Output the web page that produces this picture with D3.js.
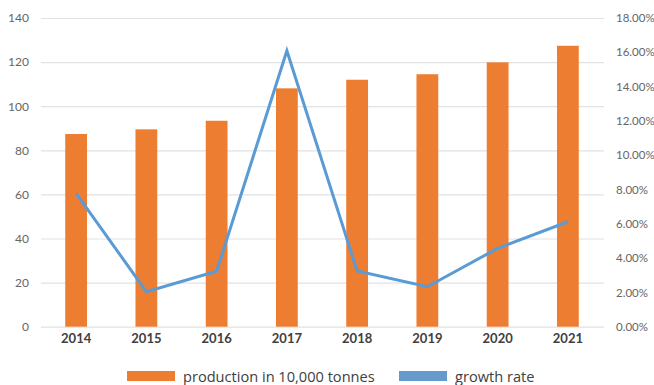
<!DOCTYPE html>
<html>
<head>
<meta charset="utf-8">
<script src="https://cdn.jsdelivr.net/npm/d3@7"></script>
<style>
  html, body { margin: 0; padding: 0; background: #fff; }
  svg { display: block; font-family: Lato, "Open Sans", sans-serif; }
</style>
</head>
<body>
<svg id="chart" width="654" height="385"></svg>
<script>
// Annual production (10,000 tonnes) and year-on-year growth rate (%)
const years = ["2014", "2015", "2016", "2017", "2018", "2019", "2020", "2021"];
const production = [87.4, 89.5, 93.4, 108.1, 112.0, 114.5, 119.9, 127.4];
const growthRate = [7.78, 2.04, 3.23, 16.09, 3.25, 2.33, 4.57, 6.12];
const leftTicks = [0, 20, 40, 60, 80, 100, 120, 140];
const rightTicks = [0, 2, 4, 6, 8, 10, 12, 14, 16, 18];
const legendLabels = ["production in 10,000 tonnes", "growth rate"];

const barColor = "#ED7D31";
const lineColor = "#5B9BD5";

const svg = d3.select("#chart");
const margin = { left: 41, right: 51, top: 18, bottom: 58 };
const W = 654, H = 385;
const plotL = margin.left, plotR = W - margin.right;
const plotT = margin.top, plotB = H - margin.bottom - 0.3;

const x = d3.scaleBand().domain(years).range([plotL, plotR]).paddingInner(0.69).paddingOuter(0.345);
const yL = d3.scaleLinear().domain([0, 140]).range([plotB, plotT]);
const yR = d3.scaleLinear().domain([0, 18]).range([plotB, plotT]);

// horizontal gridlines
const grid = svg.append("g")
  .attr("transform", `translate(${plotL},0)`)
  .call(d3.axisLeft(yL).tickValues(leftTicks).tickSize(-(plotR - plotL + 1)).tickFormat(""));
grid.select(".domain").remove();
grid.selectAll("line").attr("stroke", "#e2e2e2").attr("stroke-width", 1.2);

// left axis labels
const left = svg.append("g")
  .attr("transform", `translate(${plotL - 12},0)`)
  .call(d3.axisLeft(yL).tickValues(leftTicks).tickSize(0).tickPadding(0));
left.select(".domain").remove();
left.selectAll("text").attr("fill", "#666").style("font-size", "12px")
  .style("font-family", "Lato, sans-serif");

// right axis labels
const right = svg.append("g")
  .attr("transform", `translate(${plotR + 13},0)`)
  .call(d3.axisRight(yR).tickValues(rightTicks).tickSize(0).tickPadding(0)
    .tickFormat(d => d.toFixed(2) + "%"));
right.select(".domain").remove();
right.selectAll("text").attr("fill", "#666").style("font-size", "11.5px")
  .style("font-family", "Lato, sans-serif");

// bars
svg.append("g").selectAll("rect")
  .data(years)
  .join("rect")
  .attr("x", d => x(d))
  .attr("width", x.bandwidth())
  .attr("y", (d, i) => yL(production[i]))
  .attr("height", (d, i) => plotB - yL(production[i]))
  .attr("fill", barColor);

// growth rate line
const line = d3.line()
  .x((d, i) => x(years[i]) + x.bandwidth() / 2)
  .y(d => yR(d));
svg.append("path")
  .datum(growthRate)
  .attr("d", line)
  .attr("fill", "none")
  .attr("stroke", lineColor)
  .attr("stroke-width", 3)
  .attr("stroke-linejoin", "miter");

// category labels
const bottom = svg.append("g")
  .attr("transform", `translate(0,${plotB + 4})`)
  .call(d3.axisBottom(x).tickSize(0).tickPadding(0));
bottom.select(".domain").remove();
bottom.selectAll("text").attr("fill", "#404040").attr("dy", "0.95em")
  .style("font-size", "13px").style("font-weight", "bold")
  .style("font-family", "Lato, sans-serif");

// legend
const legend = svg.append("g");
const legendItems = [
  { label: legendLabels[0], color: barColor, x: 127 },
  { label: legendLabels[1], color: "#6699CC", x: 399 }
];
legendItems.forEach(item => {
  legend.append("rect")
    .attr("x", item.x).attr("y", 371)
    .attr("width", 48).attr("height", 10)
    .attr("fill", item.color);
  legend.append("text")
    .attr("x", item.x + 56).attr("y", 381.5)
    .attr("fill", "#404040")
    .style("font-size", "14.6px")
    .style("font-family", "'Open Sans', sans-serif")
    .text(item.label);
});
</script>
</body>
</html>
